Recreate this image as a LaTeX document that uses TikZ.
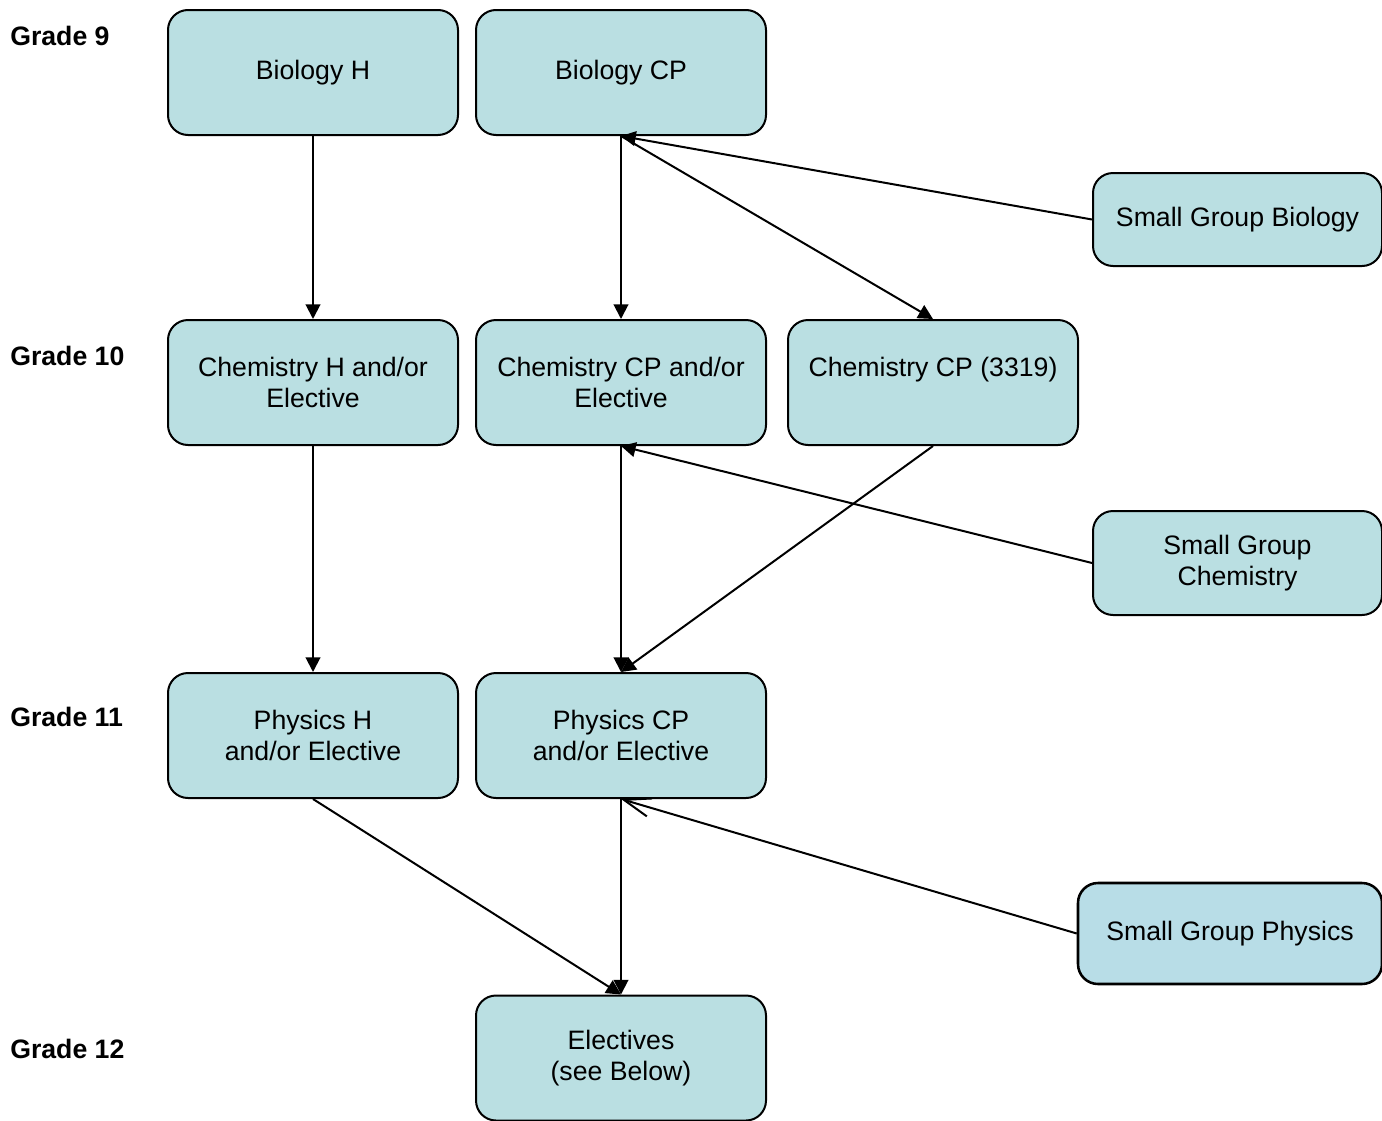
\documentclass[tikz,border=0pt]{standalone}
\usepackage{fontspec}
\setmainfont{Liberation Sans}
\usetikzlibrary{arrows.meta}
\definecolor{boxfill}{RGB}{186,223,226}
\definecolor{physfill}{RGB}{184,221,231}
\begin{document}
\begin{tikzpicture}[x=0.75pt,y=-0.75pt,
  box/.style={draw,line width=1.5pt,rounded corners=15pt,fill=boxfill,minimum width=217.5pt,minimum height=93.75pt,inner sep=0pt,align=center,font=\fontsize{20}{23.25}\selectfont},
  grade/.style={anchor=west,font=\bfseries\fontsize{20}{24}\selectfont,inner sep=0pt},
  arr/.style={line width=1.5pt,-{Triangle[length=11pt,width=11pt]}},
  barb/.style={line width=1.5pt,-{Straight Barb[length=20pt,width=14pt,line width=1.5pt]}}]
\useasboundingbox (0,0) rectangle (1382,1121);
\node[grade] (g9) at (10,36) {Grade 9};
\node[grade] (g10) at (10,356) {Grade 10};
\node[grade] (g11) at (10,717) {Grade 11};
\node[grade] (g12) at (10,1049) {Grade 12};
\node[box] (bioh) at (313,72.5) {Biology H};
\node[box] (biocp) at (621,72.5) {Biology CP};
\node[box,minimum width=216.75pt,minimum height=69.75pt] (sgbio) at (1237.5,219.5) {Small Group Biology};
\node[box] (chemh) at (313,382.5) {Chemistry H and/or\\Elective};
\node[box] (chemcp) at (621,382.5) {Chemistry CP and/or\\Elective};
\node[box] (chem3319) at (933,382.5) {Chemistry CP (3319)\\\phantom{E}};
\node[box,minimum width=216.75pt,minimum height=78pt] (sgchem) at (1237.5,563) {Small Group\\Chemistry};
\node[box] (phyh) at (313,735.5) {Physics H\\and/or Elective};
\node[box] (phycp) at (621,735.5) {Physics CP\\and/or Elective};
\node[box,fill=physfill,line width=1.9pt,minimum width=228pt,minimum height=75.75pt] (sgphy) at (1230,933.5) {Small Group Physics};
\node[box] (elec) at (621,1058) {Electives\\(see Below)};
\draw[arr] (bioh.south) -- (chemh.north);
\draw[arr] (biocp.south) -- (chemcp.north);
\draw[arr] (biocp.south) -- (chem3319.north);
\draw[arr] (sgbio.west) -- (biocp.south);
\draw[arr] (chemh.south) -- (phyh.north);
\draw[arr] (chemcp.south) -- (phycp.north);
\draw[arr] (chem3319.south) -- (phycp.north);
\draw[arr] (sgchem.west) -- (chemcp.south);
\draw[arr] (phyh.south) -- (elec.north);
\draw[arr] (phycp.south) -- (elec.north);
\draw[barb] (sgphy.west) -- (phycp.south);
\end{tikzpicture}
\end{document}
